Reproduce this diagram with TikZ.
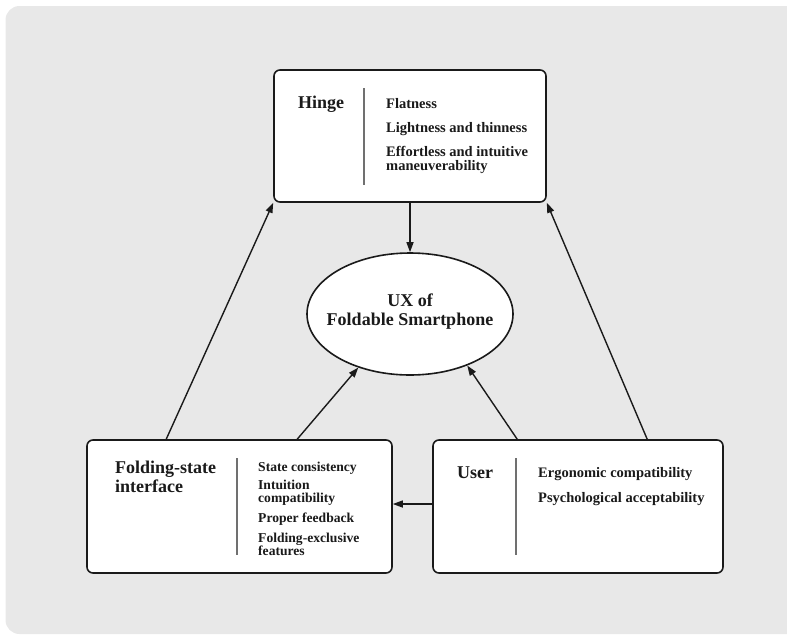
\documentclass[tikz,border=0pt]{standalone}
\usepackage{fontspec}
\setmainfont{Liberation Serif}
\usetikzlibrary{arrows.meta,shapes.geometric,calc}
\definecolor{bgc}{HTML}{E8E8E8}
\definecolor{divc}{HTML}{707070}
\definecolor{ink}{HTML}{1A1A1A}
\begin{document}
\begin{tikzpicture}[x=1pt,y=-1pt,
  box/.style={draw=ink, line width=1.6pt, fill=white, rounded corners=6pt, rectangle, inner sep=0pt},
  conn/.style={line width=1.4pt, draw=ink, -{Triangle[length=10pt,width=7pt]}},
  ttl/.style={anchor=base west, inner sep=0pt, text=ink, font=\fontsize{18}{19}\selectfont\bfseries},
  ctr/.style={anchor=base, inner sep=0pt, text=ink, font=\fontsize{18}{19}\selectfont\bfseries},
  itm/.style={anchor=base west, inner sep=0pt, text=ink, font=\fontsize{14.5}{12}\selectfont\bfseries},
  itms/.style={anchor=base west, inner sep=0pt, text=ink, font=\fontsize{13.6}{11}\selectfont\bfseries},
  divl/.style={line width=1.4pt, draw=divc}]
\useasboundingbox (0,0) rectangle (787,635);
\fill[bgc, rounded corners=14pt] (5.5,6) rectangle (810,634);

% boxes
\node[box, minimum width=272pt, minimum height=132pt] (hinge) at (410,136) {};
\node[box, minimum width=305pt, minimum height=133pt] (fold) at (239.5,506.5) {};
\node[box, minimum width=290pt, minimum height=133pt] (user) at (578,506.5) {};
\node[ellipse, draw=ink, line width=1.6pt, fill=white, minimum width=206pt, minimum height=122pt, inner sep=0pt] (ux) at (410,314) {};

% dividers
\draw[divl] (364,88) -- (364,185);
\draw[divl] (237,458) -- (237,555);
\draw[divl] (516,458) -- (516,555);

% hinge texts
\node[ttl] (hT) at (298,108) {Hinge};
\node[itm] (h1) at (386,108) {Flatness};
\node[itm] (h2) at (386,132) {Lightness and thinness};
\node[itm] (h3a) at (386,156) {Effortless and intuitive};
\node[itm] (h3b) at (386,170) {maneuverability};

% folding texts
\node[ttl] (fT1) at (115,473) {Folding-state};
\node[ttl] (fT2) at (115,492) {interface};
\node[itms] (f1) at (258,471) {State consistency};
\node[itms] (f2a) at (258,489) {Intuition};
\node[itms] (f2b) at (258,502) {compatibility};
\node[itms] (f3) at (258,522) {Proper feedback};
\node[itms] (f4a) at (258,542) {Folding-exclusive};
\node[itms] (f4b) at (258,555) {features};

% user texts
\node[ttl] (uT) at (457,478) {User};
\node[itm] (u1) at (538,477) {Ergonomic compatibility};
\node[itm] (u2) at (538,502) {Psychological acceptability};

% ellipse text
\node[ctr] (x1) at (410,306) {UX of};
\node[ctr] (x2) at (410,325) {Foldable Smartphone};

% connectors
\draw[conn] (hinge.south) -- (ux.north);
\draw[conn] ([xshift=80pt]fold.north west) -- (hinge.south west);
\draw[conn] ([xshift=211pt]fold.north west) -- (ux.-134);
\draw[conn] ([xshift=85pt]user.north west) -- (ux.-42);
\draw[conn] ([xshift=215pt]user.north west) -- (hinge.south east);
\draw[conn] ([yshift=2.5pt]user.west) -- ([yshift=2.5pt]fold.east);
\end{tikzpicture}
\end{document}
